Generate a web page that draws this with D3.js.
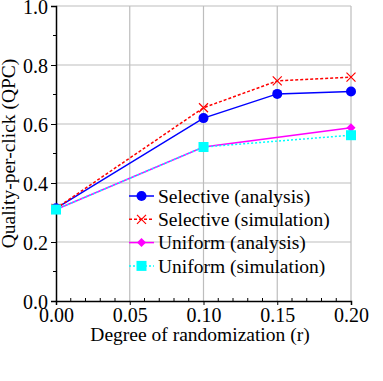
<!DOCTYPE html>
<html>
<head>
<meta charset="utf-8">
<script src="https://cdn.jsdelivr.net/npm/d3@7"></script>
<style>
  body { margin: 0; background: #fff; }
  text { font-family: "Liberation Serif", "DejaVu Serif", serif; }
</style>
</head>
<body>
<svg id="chart" width="383" height="381"></svg>
<script>
const xTicks = [0, 0.05, 0.10, 0.15, 0.20];
const yTicks = [0, 0.2, 0.4, 0.6, 0.8, 1.0];

const selX = [0, 0.10, 0.15, 0.20];
const selAnalysis = [0.314, 0.620, 0.702, 0.710];
const selSimulation = [0.314, 0.655, 0.746, 0.759];

const uniX = [0, 0.10, 0.20];
const uniAnalysis = [0.310, 0.522, 0.587];
const uniSimulation = [0.310, 0.522, 0.562];

const series = [
  {name: "Selective (analysis)", xs: selX, ys: selAnalysis, color: "#0000ff", dash: null, marker: "circle"},
  {name: "Selective (simulation)", xs: selX, ys: selSimulation, color: "#ff0000", dash: "3,2", marker: "cross"},
  {name: "Uniform (analysis)", xs: uniX, ys: uniAnalysis, color: "#ff00ff", dash: null, marker: "diamond"},
  {name: "Uniform (simulation)", xs: uniX, ys: uniSimulation, color: "#00ffff", dash: "2,2", marker: "square"}
];

const svg = d3.select("#chart");
const x = d3.scaleLinear().domain([0, 0.2]).range([56, 351]);
const y = d3.scaleLinear().domain([0, 1]).range([301, 6]);

// grid
svg.append("g").selectAll("line.gx").data(xTicks.slice(1)).enter().append("line")
  .attr("x1", d => x(d)).attr("x2", d => x(d)).attr("y1", y(0)).attr("y2", y(1))
  .attr("stroke", "#bdbdbd").attr("stroke-width", 1.2);
svg.append("g").selectAll("line.gy").data(yTicks.slice(1)).enter().append("line")
  .attr("x1", x(0)).attr("x2", x(0.2)).attr("y1", d => y(d)).attr("y2", d => y(d))
  .attr("stroke", "#bdbdbd").attr("stroke-width", 1.2);

// axes
const xAxis = svg.append("g").attr("transform", `translate(0,${y(0)})`)
  .call(d3.axisBottom(x).tickValues(xTicks).tickFormat(d3.format(".2f")).tickSize(4).tickPadding(3));
const yAxis = svg.append("g").attr("transform", `translate(${x(0)},0)`)
  .call(d3.axisLeft(y).tickValues(yTicks).tickFormat(d3.format(".1f")).tickSize(5).tickPadding(3));
[xAxis, yAxis].forEach(g => {
  g.select(".domain").attr("stroke", "#000").attr("stroke-width", 1.5);
  g.selectAll(".tick line").attr("stroke", "#000").attr("stroke-width", 1);
  g.selectAll("text").attr("font-size", 20).attr("fill", "#000")
    .style("font-family", "'Liberation Serif', serif");
});
yAxis.selectAll("text").attr("dy", "0.35em");

// minor ticks
const xMinor = d3.range(1, 20).map(i => i / 100).filter(v => Math.abs(v * 20 - Math.round(v * 20)) > 1e-6);
svg.append("g").selectAll("line").data(xMinor).enter().append("line")
  .attr("x1", d => x(d)).attr("x2", d => x(d)).attr("y1", y(0)).attr("y2", y(0) - 3)
  .attr("stroke", "#000");
const yMinor = [0.1, 0.3, 0.5, 0.7, 0.9];
svg.append("g").selectAll("line").data(yMinor).enter().append("line")
  .attr("x1", x(0) - 3).attr("x2", x(0)).attr("y1", d => y(d)).attr("y2", d => y(d))
  .attr("stroke", "#000");

// axis labels
svg.append("text").attr("x", 200).attr("y", 341).attr("text-anchor", "middle")
  .attr("font-size", 19.5).text("Degree of randomization (r)");
svg.append("text").attr("transform", `translate(15,${(y(0) + y(1)) / 2}) rotate(-90)`)
  .attr("text-anchor", "middle").attr("font-size", 19.5).text("Quality-per-click (QPC)");

function drawMarker(g, type, cx, cy, color) {
  if (type === "circle") {
    g.append("circle").attr("cx", cx).attr("cy", cy).attr("r", 5).attr("fill", color);
  } else if (type === "cross") {
    const s = 4.5;
    g.append("path").attr("d", `M${cx - s},${cy - s}L${cx + s},${cy + s}M${cx - s},${cy + s}L${cx + s},${cy - s}`)
      .attr("stroke", color).attr("stroke-width", 1.2).attr("fill", "none");
  } else if (type === "diamond") {
    const s = 4.5;
    g.append("path").attr("d", `M${cx},${cy - s}L${cx + s},${cy}L${cx},${cy + s}L${cx - s},${cy}Z`).attr("fill", color);
  } else if (type === "square") {
    g.append("rect").attr("x", cx - 5).attr("y", cy - 5).attr("width", 10).attr("height", 10).attr("fill", color);
  }
}

const line = d3.line().x(d => x(d[0])).y(d => y(d[1]));
series.forEach(s => {
  const pts = s.xs.map((v, i) => [v, s.ys[i]]);
  const g = svg.append("g");
  g.append("path").attr("d", line(pts)).attr("fill", "none").attr("stroke", s.color)
    .attr("stroke-width", 1.5).attr("stroke-dasharray", s.dash);
  pts.forEach(p => drawMarker(g, s.marker, x(p[0]), y(p[1]), s.color));
});

// legend
const legend = svg.append("g");
series.forEach((s, i) => {
  const ly = 196 + i * 23.3;
  const g = legend.append("g");
  g.append("line").attr("x1", 129).attr("x2", 154).attr("y1", ly).attr("y2", ly)
    .attr("stroke", s.color).attr("stroke-width", 1.5).attr("stroke-dasharray", s.dash);
  drawMarker(g, s.marker, 141.5, ly, s.color);
  g.append("text").attr("x", 158).attr("y", ly).attr("dy", "0.35em").attr("font-size", 19.5).text(s.name);
});
</script>
</body>
</html>
